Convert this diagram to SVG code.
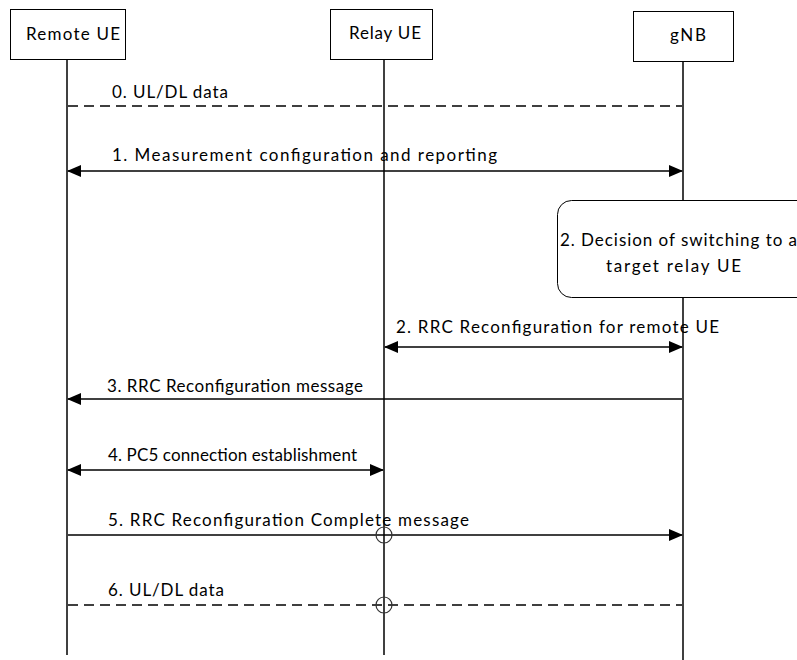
<svg xmlns="http://www.w3.org/2000/svg" width="797" height="660" viewBox="0 0 797 660">
<style>
.box{fill:#fff;stroke:#000;stroke-width:1}
.life{stroke:#000;stroke-width:1.5;fill:none}
.msg{stroke:#000;stroke-width:1.5;fill:none}
.dash{stroke:#000;stroke-width:1.5;fill:none;stroke-dasharray:10,6}
.t{font-family:Lato,"Liberation Sans",sans-serif;font-size:17px;fill:#000}
.c{fill:none;stroke:#333;stroke-width:1.2}
</style>
<defs>
<marker id="ah" viewBox="0 0 14 12" refX="13" refY="6" markerWidth="14" markerHeight="12" markerUnits="userSpaceOnUse" orient="auto-start-reverse">
<path d="M0,0 L14,6 L0,12 Z" fill="#000"/>
</marker>
</defs>
<rect width="797" height="660" fill="#fff"/>
<g id="lifelines">
<line class="life" x1="67" y1="60" x2="67" y2="655"/>
<line class="life" x1="384" y1="60" x2="384" y2="655"/>
<line class="life" x1="683" y1="62" x2="683" y2="660"/>
</g>
<g id="remote-ue">
<rect class="box" x="10.5" y="9.5" width="115" height="50"/>
<text class="t" x="26" y="40" textLength="94">Remote UE</text>
</g>
<g id="relay-ue">
<rect class="box" x="330.5" y="9.5" width="102" height="50"/>
<text class="t" x="349" y="39" textLength="72">Relay UE</text>
</g>
<g id="gnb">
<rect class="box" x="633.5" y="11.5" width="100" height="50"/>
<text class="t" x="670" y="41" textLength="36">gNB</text>
</g>
<g id="decision">
<rect class="box" x="557.5" y="200.5" width="260" height="97" rx="14" ry="14"/>
<text class="t" x="560" y="246" textLength="237">2. Decision of switching to a</text>
<text class="t" x="606" y="272" textLength="135">target relay UE</text>
</g>
<g id="connectors">
<line class="dash" x1="68" y1="106" x2="682" y2="106"/>
<line class="msg" x1="68" y1="171" x2="682" y2="171" marker-start="url(#ah)" marker-end="url(#ah)"/>
<line class="msg" x1="385" y1="347" x2="682" y2="347" marker-start="url(#ah)" marker-end="url(#ah)"/>
<line class="msg" x1="682" y1="399" x2="68" y2="399" marker-end="url(#ah)"/>
<line class="msg" x1="68" y1="470" x2="383" y2="470" marker-start="url(#ah)" marker-end="url(#ah)"/>
<line class="msg" x1="68" y1="535" x2="682" y2="535" marker-end="url(#ah)"/>
<circle class="c" cx="384" cy="535" r="8"/>
<line class="dash" x1="68" y1="605" x2="682" y2="605"/>
<circle class="c" cx="384" cy="605" r="8"/>
</g>
<g id="labels">
<text class="t" x="112" y="98" textLength="116">0. UL/DL data</text>
<text class="t" x="112" y="161" textLength="385">1. Measurement configuration and reporting</text>
<text class="t" x="396" y="333" textLength="323">2. RRC Reconfiguration for remote UE</text>
<text class="t" x="107" y="392" textLength="256">3. RRC Reconfiguration message</text>
<text class="t" x="108" y="461" textLength="249">4. PC5 connection establishment</text>
<text class="t" x="108" y="526" textLength="361">5. RRC Reconfiguration Complete message</text>
<text class="t" x="108" y="596" textLength="116">6. UL/DL data</text>
</g>
</svg>
